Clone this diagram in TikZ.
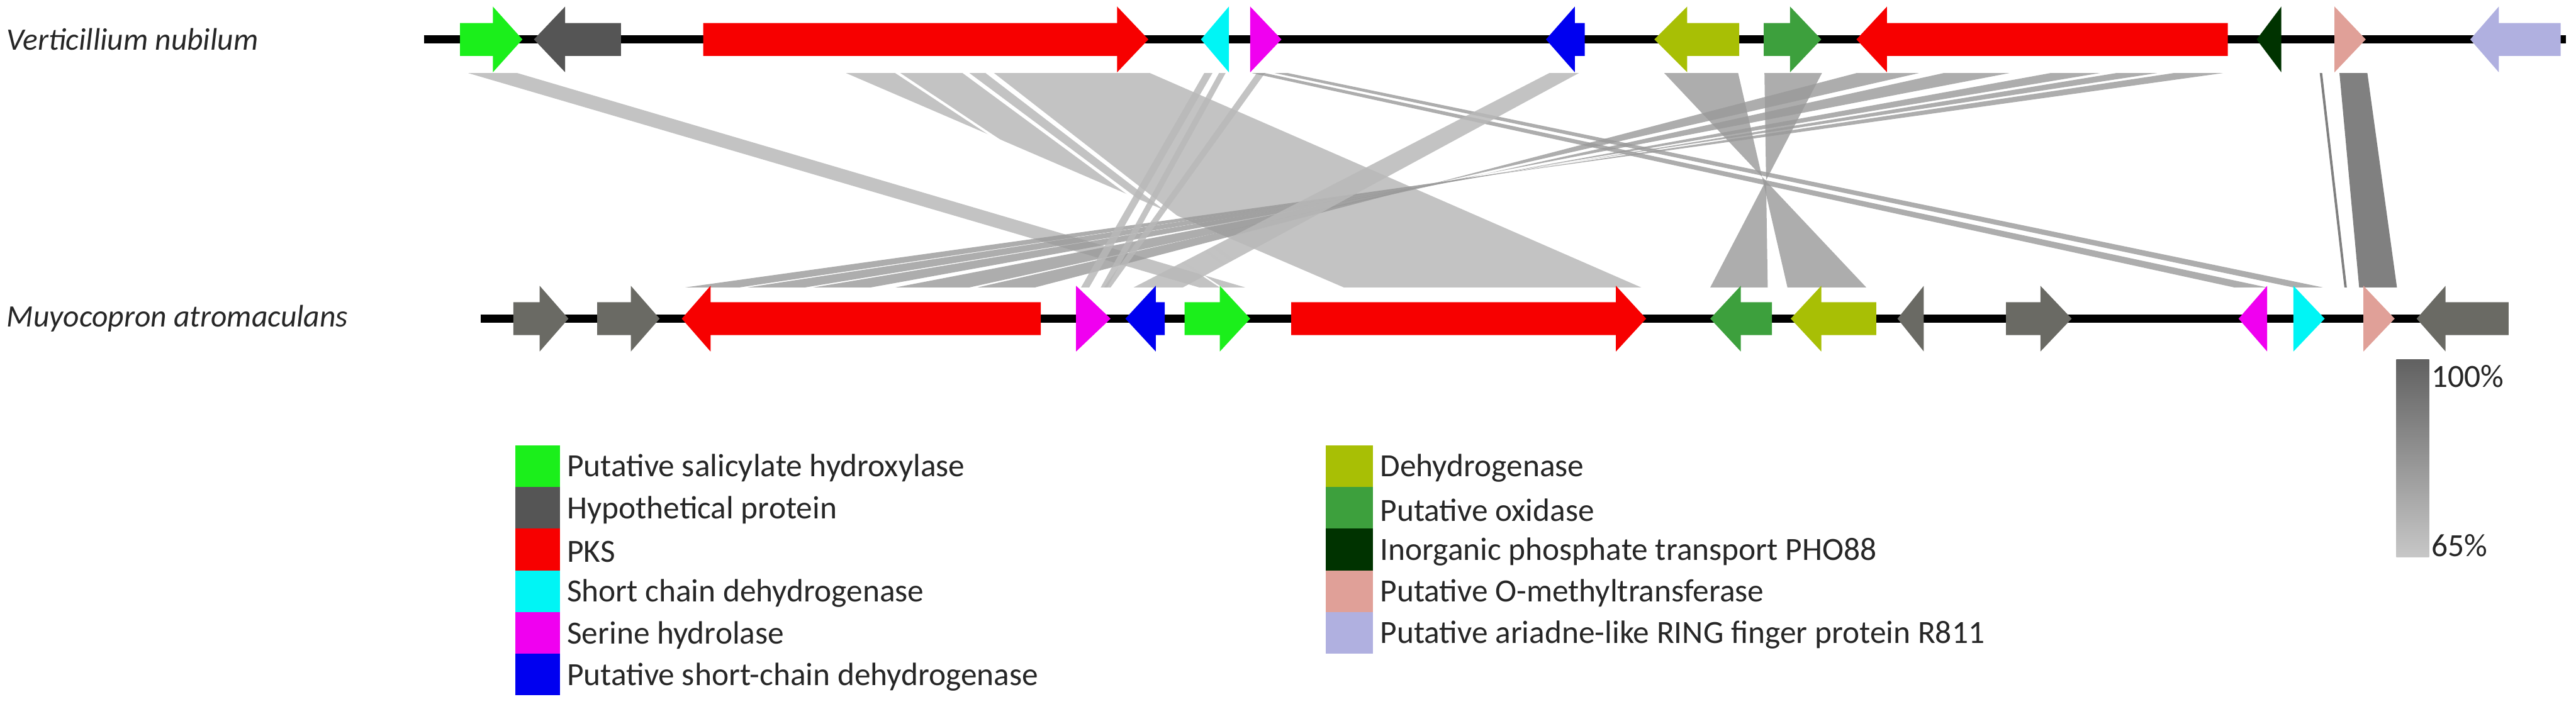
\documentclass[tikz,border=0pt]{standalone}
\usepackage{fontspec}
\setmainfont{Carlito}
\begin{document}
\begin{tikzpicture}[x=0.5mm,y=-0.5mm,
  bb/.style={line width=2.4mm,black},
  rib/.style={fill=black!28,draw=none,opacity=0.85},
  ribd/.style={fill=black!40,draw=none,opacity=0.8},
  lg/.style={anchor=west,inner sep=0pt,font=\fontsize{28}{32}\selectfont,text=black!85},
  sp/.style={anchor=west,inner sep=0pt,font=\fontsize{27}{32}\selectfont\itshape,text=black!85}]
\definecolor{gcg}{HTML}{1BEF1B}\definecolor{gch}{HTML}{555555}\definecolor{gch2}{HTML}{6A6A64}
\definecolor{gcr}{HTML}{F70000}\definecolor{gcc}{HTML}{00F5F5}\definecolor{gcm}{HTML}{F000F0}
\definecolor{gcb}{HTML}{0000F0}\definecolor{gco}{HTML}{A8BF05}\definecolor{gcx}{HTML}{3DA03D}
\definecolor{gcd}{HTML}{003300}\definecolor{gcp}{HTML}{E0A098}\definecolor{gcl}{HTML}{B0B0E0}
\useasboundingbox (0,0) rectangle (1568,431.3);
% gene arrows: right: body start, head base, tip ; left: tip, head base, body end
\newcommand\gR[5]{\fill[#5] (#1,#4-10)--(#2,#4-10)--(#2,#4-20)--(#3,#4)--(#2,#4+20)--(#2,#4+10)--(#1,#4+10)--cycle;}
\newcommand\gL[5]{\fill[#5] (#3,#4-10)--(#2,#4-10)--(#2,#4-20)--(#1,#4)--(#2,#4+20)--(#2,#4+10)--(#3,#4+10)--cycle;}
\newcommand\rb[5][rib]{\fill[#1] (#2,44.5)--(#3,44.5)--(#5,175)--(#4,175)--cycle;}
% ribbons
\rb{285}{315}{730}{758}
\rb{515}{700}{818}{999}
\foreach \a/\b in {545/548,586/590,600/605}{\fill[white] (\a,44.5)--(\b,44.5)--(\b/2+470,175)--(\a/2+470,175)--cycle;}
\rb[ribd]{1130}{1168}{630}{595}
\rb[ribd]{1183}{1223}{590}{545}
\rb[ribd]{1248}{1278}{530}{495}
\rb[ribd]{1288}{1313}{490}{455}
\rb[ribd]{1323}{1353}{450}{417}
\rb{733}{738}{658}{663}
\rb{742}{746}{670}{674}
\rb{765}{770}{672}{676}
\rb[ribd]{762}{770}{1360}{1380}
\rb[ribd]{776}{784}{1396}{1414}
\rb{943}{961}{690}{720}
\rb[ribd]{1013}{1058}{1136}{1088}
\rb[ribd]{1074}{1109}{1076}{1041}
\rb[fill=black!50]{1424}{1441}{1436}{1459}
\rb[fill=black!50]{1412}{1413.5}{1427}{1428.5}
% backbones
\draw[bb] (258,24)--(1562,24);
\draw[bb] (292.5,194)--(1527,194);
% top genes
\gR{280}{300}{318}{24}{gcg}
\gL{325}{344}{378}{24}{gch}
\gR{428}{680}{699}{24}{gcr}
\gL{731}{748}{748}{24}{gcc}
\gR{761}{761}{780}{24}{gcm}
\gL{941}{958.6}{964.6}{24}{gcb}
\gL{1007}{1027}{1058.6}{24}{gco}
\gR{1073.6}{1089.6}{1108.6}{24}{gcx}
\gL{1130}{1148.6}{1356}{24}{gcr}
\gL{1373.6}{1388.6}{1388.6}{24}{gcd}
\gR{1421}{1421}{1440}{24}{gcp}
\gL{1503.6}{1521}{1558.6}{24}{gcl}
% bottom genes
\gR{312.5}{328.5}{346}{194}{gch2}
\gR{363.5}{384}{401.5}{194}{gch2}
\gL{415}{432.5}{633.5}{194}{gcr}
\gR{655}{655}{676}{194}{gcm}
\gL{685}{703.5}{709}{194}{gcb}
\gR{721}{742.5}{761}{194}{gcg}
\gR{786}{983.6}{1002}{194}{gcr}
\gL{1041}{1059.6}{1078.6}{194}{gcx}
\gL{1090}{1108.6}{1142}{194}{gco}
\gL{1155}{1171}{1171}{194}{gch2}
\gR{1221}{1242}{1261}{194}{gch2}
\gL{1362.6}{1380}{1380}{194}{gcm}
\gR{1396}{1396}{1415}{194}{gcc}
\gR{1438.6}{1438.6}{1457.6}{194}{gcp}
\gL{1471}{1488.6}{1527}{194}{gch2}
% species
\node[sp] (s1) at (4,24) {Verticillium nubilum};
\node[sp] (s2) at (4,194) {Muyocopron atromaculans};
% legend left
\foreach \c/\t [count=\i from 0] in {gcg/Putative salicylate hydroxylase,gch/Hypothetical protein,gcr/PKS,gcc/Short chain dehydrogenase,gcm/Serine hydrolase,gcb/Putative short-chain dehydrogenase}{
  \fill[\c] (313.5,271+25.4*\i) rectangle (341,271+25.4*\i+25.4);
  \node[lg] (la\i) at (345,271+25.4*\i+14) {\t};}
\foreach \c/\t [count=\i from 0] in {gco/Dehydrogenase,gcx/Putative oxidase,gcd/Inorganic phosphate transport PHO88,gcp/Putative O-methyltransferase,gcl/Putative ariadne-like RING finger protein R811}{
  \fill[\c] (807,271+25.4*\i) rectangle (835.6,271+25.4*\i+25.4);
  \node[lg] (lb\i) at (840,271+25.4*\i+14) {\t};}
% scale bar
\shade[top color=black!62,bottom color=black!22] (1458.6,218.8) rectangle (1478.6,339);
\node[lg] (p1) at (1480,229) {100\%};
\node[lg] (p2) at (1480,332) {65\%};
\end{tikzpicture}
\end{document}
